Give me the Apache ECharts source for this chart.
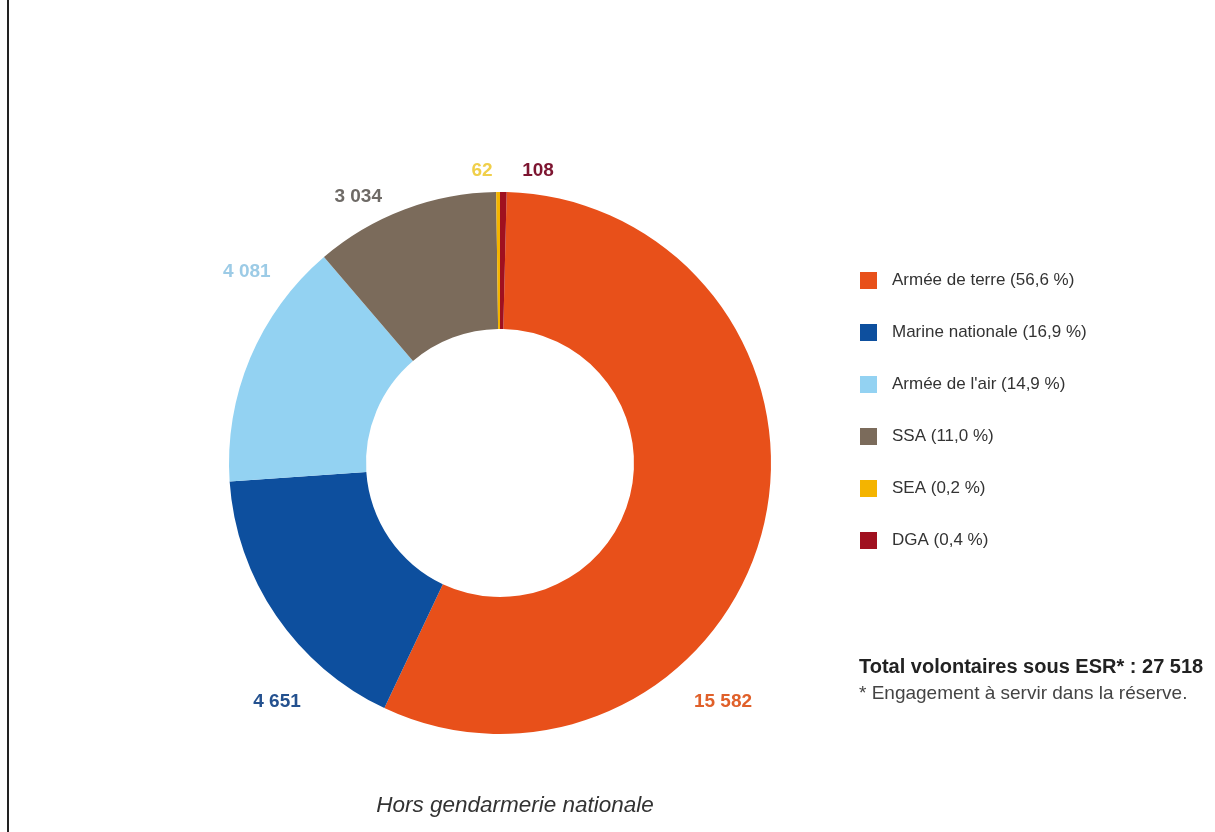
<!DOCTYPE html>
<html>
<head>
<meta charset="utf-8">
<script src="https://cdn.jsdelivr.net/npm/echarts@6/dist/echarts.min.js"></script>
<style>
html,body{margin:0;padding:0;background:#fff;}
#chart{width:1215px;height:832px;}
</style>
</head>
<body>
<div id="chart"></div>
<script>
// ---- Data ----
const categories = ["Armée de terre", "Marine nationale", "Armée de l'air", "SSA", "SEA", "DGA"];
const values = [15582, 4651, 4081, 3034, 62, 108];
const percents = [56.6, 16.9, 14.9, 11.0, 0.2, 0.4];
const totalLabel = "Total volontaires sous ESR* : 27 518";
const footnote = "* Engagement à servir dans la réserve.";
const subtitle = "Hors gendarmerie nationale";

// ---- Style ----
const sliceColors = ["#e8501a", "#0d4f9e", "#93d2f2", "#7b6b5b", "#f4b400", "#a0101f"];
const labelColors = ["#e0602a", "#24518f", "#9ccbe6", "#6e6a66", "#f0cf4a", "#7d1530"];
// label placement: angle (deg, clockwise from top) and distance from centre (px)
const labelAngles = [137, 223, 307, 332, 356.5, 7.4];
const labelDist = [327, 327, 317, 302, 293, 295];
const CX = 500, CY = 463, R_IN = 134, R_OUT = 271;
const FONT = "'Liberation Sans Narrow', 'Liberation Sans', Arial, sans-serif";

const total = values.reduce((a, b) => a + b, 0);
// Armée de terre starts right after DGA, which ends at the top
const startAngle = 90 - values[values.length - 1] / total * 360;

function fmt(n) {
  return String(n).replace(/\B(?=(\d{3})+(?!\d))/g, ' ');
}
function pct(p) {
  return p.toFixed(1).replace('.', ',') + ' %';
}

const chart = echarts.init(document.getElementById('chart'));
const legendNames = categories.map((c, i) => c + ' (' + pct(percents[i]) + ')');

chart.setOption({
  backgroundColor: '#fff',
  animation: false,
  legend: {
    orient: 'vertical',
    left: 855,
    top: 267,
    icon: 'rect',
    itemWidth: 17,
    itemHeight: 17,
    itemGap: 35,
    selectedMode: false,
    data: legendNames,
    textStyle: { fontFamily: FONT, fontSize: 17, color: '#333', padding: [0, 0, 0, 10] }
  },
  graphic: [
    { type: 'rect', left: 7, top: 0, shape: { width: 2, height: 832 }, style: { fill: '#222' } },
    { type: 'text', x: 859, y: 667, style: { text: totalLabel, font: 'bold 20px ' + FONT, fill: '#222', textVerticalAlign: 'middle' } },
    { type: 'text', x: 859, y: 694, style: { text: footnote, font: '19px ' + FONT, fill: '#444', textVerticalAlign: 'middle' } },
    { type: 'text', x: 515, y: 806, style: { text: subtitle, font: 'italic 22.5px ' + FONT, fill: '#333', textAlign: 'center', textVerticalAlign: 'middle' } }
  ],
  series: [{
    type: 'pie',
    center: [CX, CY],
    radius: [R_IN, R_OUT],
    startAngle: startAngle,
    clockwise: true,
    avoidLabelOverlap: false,
    label: {
      show: true,
      position: 'outside',
      fontFamily: FONT,
      fontWeight: 'bold',
      fontSize: 19,
      formatter: p => fmt(values[p.dataIndex])
    },
    labelLine: { show: false },
    labelLayout: function (p) {
      const i = p.dataIndex;
      const a = labelAngles[i] * Math.PI / 180;
      return {
        x: CX + labelDist[i] * Math.sin(a),
        y: CY - labelDist[i] * Math.cos(a),
        align: 'center',
        verticalAlign: 'middle'
      };
    },
    itemStyle: { borderWidth: 0 },
    data: categories.map((c, i) => ({
      name: legendNames[i],
      value: values[i],
      itemStyle: { color: sliceColors[i] },
      label: { color: labelColors[i] }
    }))
  }]
});
</script>
</body>
</html>
